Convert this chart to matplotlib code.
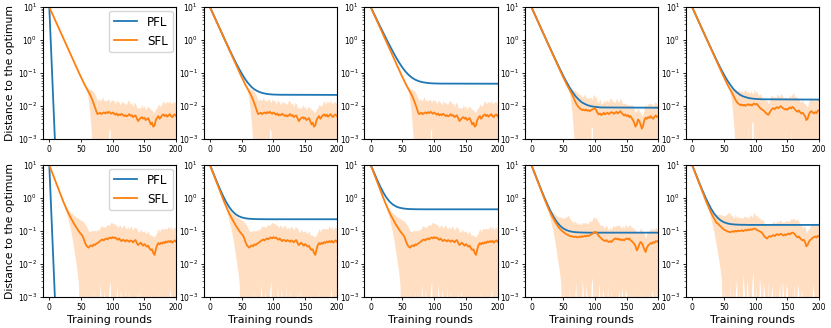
import numpy as np
import matplotlib
matplotlib.use("Agg")
import matplotlib.pyplot as plt

# ---------------- data (log10 of distance to optimum) ----------------
SFL_X = np.arange(0, 201, 2)

# top row: common descent x = 0..64
SFL_TOP_DESCENT = [1.0, 0.915, 0.83, 0.745, 0.66, 0.575, 0.49, 0.405, 0.32, 0.235,
                   0.15, 0.065, -0.02, -0.105, -0.19, -0.275, -0.36, -0.445, -0.53, -0.615,
                   -0.70, -0.785, -0.87, -0.955, -1.04, -1.12, -1.20, -1.28, -1.36, -1.43,
                   -1.50, -1.57, -1.64]
# top row floors x = 66..200
SFL_TOP_A_FLOOR = [-1.72, -1.82, -1.92, -2.03, -2.15, -2.24, -2.22, -2.20, -2.24, -2.21,
                   -2.19, -2.22, -2.18, -2.21, -2.17, -2.20, -2.23, -2.19, -2.22, -2.26,
                   -2.22, -2.28, -2.25, -2.27, -2.23, -2.26, -2.30, -2.27, -2.31, -2.28,
                   -2.24, -2.29, -2.27, -2.33, -2.30, -2.28, -2.37, -2.45, -2.40, -2.36,
                   -2.33, -2.38, -2.35, -2.42, -2.39, -2.36, -2.45, -2.55, -2.50, -2.62,
                   -2.58, -2.42, -2.35, -2.30, -2.38, -2.33, -2.27, -2.25, -2.30, -2.26,
                   -2.32, -2.28, -2.24, -2.30, -2.33, -2.27, -2.25, -2.30]
SFL_TOP_B_FLOOR = [-1.72, -1.82, -1.90, -1.97, -2.02, -2.06, -2.09, -2.12, -2.10, -2.13,
                   -2.10, -2.14, -2.12, -2.15, -2.12, -2.10, -2.08, -2.06, -2.12, -2.20,
                   -2.25, -2.22, -2.27, -2.24, -2.20, -2.25, -2.22, -2.20, -2.24, -2.21,
                   -2.18, -2.20, -2.23, -2.20, -2.17, -2.22, -2.19, -2.15, -2.20, -2.24,
                   -2.28, -2.25, -2.30, -2.27, -2.33, -2.30, -2.36, -2.42, -2.50, -2.62,
                   -2.55, -2.40, -2.45, -2.55, -2.68, -2.60, -2.42, -2.35, -2.38, -2.33,
                   -2.36, -2.30, -2.35, -2.38, -2.32, -2.28, -2.33, -2.30]
SFL_TOP_C_FLOOR = [-1.72, -1.80, -1.86, -1.91, -1.94, -1.97, -1.95, -1.98, -1.96, -1.99,
                   -1.96, -1.94, -1.97, -1.95, -1.98, -1.94, -1.92, -1.95, -1.93, -1.98,
                   -2.03, -2.07, -2.10, -2.12, -2.16, -2.20, -2.24, -2.26, -2.20, -2.13,
                   -2.08, -2.06, -2.09, -2.05, -2.03, -2.06, -2.02, -2.00, -2.04, -2.07,
                   -2.10, -2.08, -2.11, -2.06, -2.04, -2.07, -2.02, -2.05, -2.10, -2.14,
                   -2.17, -2.13, -2.18, -2.22, -2.20, -2.25, -2.30, -2.42, -2.38, -2.25,
                   -2.18, -2.15, -2.19, -2.22, -2.18, -2.21, -2.14, -2.12]

# bottom row: common descent x = 0..38
SFL_BOT_DESCENT = [1.0, 0.9, 0.8, 0.7, 0.6, 0.5, 0.4, 0.3, 0.2, 0.1,
                   0.0, -0.1, -0.19, -0.28, -0.37, -0.45, -0.53, -0.60, -0.67, -0.74]
# bottom row floors x = 40..200
SFL_BOT_A_FLOOR = [-0.81, -0.87, -0.93, -0.99, -1.04, -1.09, -1.13, -1.22, -1.33, -1.42,
                   -1.47, -1.50, -1.45, -1.43, -1.46, -1.40, -1.42, -1.38, -1.36, -1.33,
                   -1.30, -1.27, -1.25, -1.28, -1.24, -1.22, -1.25, -1.21, -1.19, -1.22,
                   -1.18, -1.21, -1.19, -1.23, -1.26, -1.22, -1.27, -1.30, -1.26, -1.28,
                   -1.31, -1.27, -1.29, -1.32, -1.28, -1.30, -1.34, -1.29, -1.27, -1.36,
                   -1.42, -1.38, -1.35, -1.40, -1.44, -1.39, -1.43, -1.47, -1.44, -1.52,
                   -1.57, -1.55, -1.66, -1.72, -1.55, -1.42, -1.36, -1.40, -1.35, -1.38,
                   -1.33, -1.36, -1.31, -1.34, -1.30, -1.33, -1.29, -1.35, -1.31, -1.28,
                   -1.32]
SFL_BOT_B_FLOOR = [-0.80, -0.86, -0.91, -0.95, -0.99, -1.02, -1.05, -1.08, -1.10, -1.12,
                   -1.14, -1.16, -1.15, -1.17, -1.18, -1.16, -1.19, -1.18, -1.16, -1.18,
                   -1.15, -1.17, -1.14, -1.16, -1.13, -1.15, -1.12, -1.10, -1.08, -1.05,
                   -1.02, -1.03, -1.08, -1.14, -1.18, -1.22, -1.25, -1.28, -1.30, -1.27,
                   -1.31, -1.33, -1.30, -1.33, -1.28, -1.25, -1.22, -1.24, -1.22, -1.26,
                   -1.24, -1.28, -1.25, -1.28, -1.24, -1.22, -1.25, -1.22, -1.27, -1.30,
                   -1.34, -1.38, -1.45, -1.58, -1.52, -1.40, -1.33, -1.36, -1.45, -1.55,
                   -1.63, -1.50, -1.43, -1.40, -1.36, -1.38, -1.33, -1.35, -1.30, -1.32,
                   -1.28]
SFL_BOT_C_FLOOR = [-0.76, -0.80, -0.84, -0.88, -0.92, -0.95, -0.97, -0.99, -1.01, -1.02,
                   -1.03, -1.02, -1.00, -1.02, -0.99, -1.01, -0.98, -1.00, -0.99, -0.97,
                   -1.00, -0.98, -0.96, -0.98, -0.95, -0.97, -0.94, -0.96, -0.93, -0.92,
                   -0.94, -0.96, -0.98, -1.00, -1.02, -1.05, -1.10, -1.16, -1.20, -1.22,
                   -1.18, -1.15, -1.17, -1.14, -1.12, -1.15, -1.11, -1.09, -1.12, -1.10,
                   -1.08, -1.11, -1.13, -1.10, -1.12, -1.09, -1.07, -1.10, -1.06, -1.04,
                   -1.06, -1.10, -1.15, -1.19, -1.16, -1.21, -1.25, -1.28, -1.26, -1.33,
                   -1.46, -1.42, -1.32, -1.27, -1.24, -1.20, -1.18, -1.16, -1.19, -1.14,
                   -1.16]

# band half-widths (in decades) above / below the SFL mean, x = 0..200 step 2
TOP_UP = [0.02] * 29 + [
    0.04, 0.06, 0.10, 0.15, 0.22, 0.30, 0.35, 0.38, 0.42, 0.40,
    0.45, 0.38, 0.42, 0.50, 0.36, 0.40, 0.33, 0.42, 0.38, 0.30,
    0.45, 0.35, 0.40, 0.32, 0.38, 0.44, 0.36, 0.30, 0.40, 0.35,
    0.42, 0.33, 0.38, 0.46, 0.40, 0.34, 0.38, 0.30, 0.42, 0.36,
    0.32, 0.40, 0.35, 0.30, 0.38, 0.33, 0.36, 0.30, 0.38, 0.34,
    0.40, 0.45, 0.38, 0.44, 0.40, 0.35, 0.30, 0.36, 0.40, 0.33,
    0.38, 0.42, 0.36, 0.40, 0.45, 0.38, 0.42, 0.36, 0.44, 0.40,
    0.38, 0.35]
TOP_LO = [0.02] * 29 + [
    0.05, 0.12, 0.30, 0.60, 1.0, 1.5, 2.0, 3, 3, 2.0,
    3, 3, 3, 3, 3, 0.6, 3, 3, 0.5, 0.55,
    3, 3, 3, 3, 3, 3, 0.7, 3, 3, 3,
    3, 0.6, 3, 3, 3, 3, 3, 0.8, 3, 3,
    3, 3, 3, 3, 0.5, 3, 3, 3, 3, 0.6,
    3, 3, 3, 3, 3, 3, 3, 0.55, 3, 3,
    3, 3, 3, 0.7, 3, 3, 3, 3, 3, 0.6,
    3, 3]
BOT_UP = [0.02] * 12 + [
    0.04, 0.06, 0.08, 0.10, 0.13, 0.16, 0.20, 0.24, 0.28, 0.30,
    0.34, 0.38, 0.40, 0.42, 0.45, 0.50, 0.55, 0.60, 0.55, 0.50,
    0.45, 0.42, 0.50, 0.40, 0.45, 0.38, 0.42, 0.36, 0.40, 0.44,
    0.38, 0.42, 0.35, 0.40, 0.45, 0.38, 0.42, 0.50, 0.40, 0.45,
    0.38, 0.42, 0.36, 0.40, 0.44, 0.38, 0.42, 0.46, 0.40, 0.35,
    0.42, 0.38, 0.44, 0.40, 0.36, 0.42, 0.38, 0.45, 0.40, 0.36,
    0.42, 0.38, 0.44, 0.40, 0.36, 0.42, 0.45, 0.40, 0.46, 0.42,
    0.50, 0.55, 0.45, 0.40, 0.44, 0.38, 0.42, 0.46, 0.40, 0.44,
    0.38, 0.42, 0.46, 0.40, 0.44, 0.38, 0.42, 0.40, 0.38]
BOT_LO = [0.02] * 12 + [
    0.05, 0.10, 0.15, 0.22, 0.30, 0.40, 0.55, 0.70, 0.90, 1.1,
    1.3, 1.6, 3, 1.8, 3, 1.9, 3, 3, 1.5, 3,
    1.7, 3, 1.9, 1.4, 3, 1.7, 3, 3, 1.3, 1.8,
    3, 1.5, 1.9, 3, 3, 1.6, 1.3, 3, 1.7, 3,
    3, 1.4, 1.8, 3, 1.5, 1.7, 3, 3, 1.3, 3,
    1.8, 1.5, 3, 1.7, 3, 3, 1.9, 1.5, 3, 1.4,
    1.8, 3, 1.5, 1.7, 3, 3, 1.9, 3, 1.5, 3,
    3, 1.4, 1.7, 3, 1.5, 1.8, 3, 1.6, 3, 3,
    1.7, 1.9, 3, 1.4, 1.7, 3, 3, 1.8, 3]

# PFL curves
PFL_FAST_X = [0, 10, 20]
PFL_FAST = [1.0, -3.55, -8.1]
PFL_X = [0, 5, 10, 15, 20, 25, 30, 35, 40, 45, 50, 55, 60, 65, 70, 75, 80, 85, 90, 95, 100, 110, 200]
PFL_TOP_2 = [1.0, 0.789, 0.578, 0.367, 0.157, -0.052, -0.257, -0.459, -0.655, -0.840, -1.01, -1.17,
             -1.30, -1.41, -1.49, -1.545, -1.585, -1.61, -1.63, -1.64, -1.647, -1.653, -1.658]
PFL_TOP_3 = [1.0, 0.803, 0.605, 0.408, 0.213, 0.020, -0.168, -0.35, -0.524, -0.686, -0.83, -0.955,
             -1.056, -1.136, -1.195, -1.237, -1.265, -1.283, -1.297, -1.305, -1.31, -1.315, -1.319]
PFL_TOP_4 = [1.0, 0.79, 0.575, 0.363, 0.15, -0.058, -0.268, -0.474, -0.681, -0.881, -1.076, -1.26,
             -1.43, -1.58, -1.71, -1.81, -1.89, -1.94, -1.98, -2.004, -2.02, -2.038, -2.046]
PFL_TOP_5 = [1.0, 0.789, 0.576, 0.365, 0.154, -0.054, -0.262, -0.466, -0.667, -0.861, -1.04, -1.21,
             -1.35, -1.48, -1.575, -1.65, -1.70, -1.73, -1.757, -1.77, -1.78, -1.79, -1.80]
PFL_BOT_2 = [1.0, 0.767, 0.530, 0.303, 0.090, -0.101, -0.263, -0.389, -0.481, -0.543, -0.582, -0.606,
             -0.620, -0.628, -0.632, -0.635, -0.636, -0.637, -0.638, -0.638, -0.638, -0.638, -0.638]
PFL_BOT_3 = [1.0, 0.784, 0.559, 0.350, 0.164, 0.009, -0.110, -0.195, -0.252, -0.287, -0.308, -0.321,
             -0.328, -0.332, -0.334, -0.336, -0.336, -0.337, -0.337, -0.337, -0.337, -0.337, -0.337]
PFL_BOT_4 = [1.0, 0.757, 0.512, 0.271, 0.037, -0.186, -0.391, -0.572, -0.721, -0.835, -0.915, -0.967,
             -1.0, -1.02, -1.031, -1.037, -1.041, -1.043, -1.045, -1.045, -1.045, -1.045, -1.045]
PFL_BOT_5 = [1.0, 0.762, 0.521, 0.286, 0.063, -0.144, -0.327, -0.478, -0.593, -0.675, -0.729, -0.762,
             -0.783, -0.794, -0.801, -0.805, -0.807, -0.808, -0.81, -0.81, -0.81, -0.81, -0.81]

SERIES_LABELS = ["PFL", "SFL"]
X_TICKS = [0, 50, 100, 150, 200]
X_LABEL = "Training rounds"
Y_LABEL = "Distance to the optimum"

# ---------------- assemble panels ----------------
top_A = SFL_TOP_DESCENT + SFL_TOP_A_FLOOR
top_B = SFL_TOP_DESCENT + SFL_TOP_B_FLOOR
top_C = SFL_TOP_DESCENT + SFL_TOP_C_FLOOR
bot_A = SFL_BOT_DESCENT + SFL_BOT_A_FLOOR
bot_B = SFL_BOT_DESCENT + SFL_BOT_B_FLOOR
bot_C = SFL_BOT_DESCENT + SFL_BOT_C_FLOOR

panels = [
    [((PFL_FAST_X, PFL_FAST), top_A), ((PFL_X, PFL_TOP_2), top_A), ((PFL_X, PFL_TOP_3), top_A),
     ((PFL_X, PFL_TOP_4), top_B), ((PFL_X, PFL_TOP_5), top_C)],
    [((PFL_FAST_X, PFL_FAST), bot_A), ((PFL_X, PFL_BOT_2), bot_A), ((PFL_X, PFL_BOT_3), bot_A),
     ((PFL_X, PFL_BOT_4), bot_B), ((PFL_X, PFL_BOT_5), bot_C)],
]
bands = [(TOP_UP, TOP_LO), (BOT_UP, BOT_LO)]

BLUE = "#1f77b4"
ORANGE = "#ff7f0e"

plt.rcParams["font.family"] = ["DejaVu Sans"]
fig, axes = plt.subplots(2, 5, figsize=(8.31, 3.28), dpi=100)
fig.subplots_adjust(left=0.0517, right=0.9856, top=0.978, bottom=0.094,
                    wspace=0.207, hspace=0.197)

for r in range(2):
    up, lo = bands[r]
    for c in range(5):
        ax = axes[r, c]
        (px, py), sfl = panels[r][c]
        sfl = np.asarray(sfl)
        ax.fill_between(SFL_X, 10.0 ** (sfl - np.asarray(lo)), 10.0 ** (sfl + np.asarray(up)),
                        color=ORANGE, alpha=0.25, linewidth=0)
        ax.plot(px, 10.0 ** np.asarray(py), color=BLUE, lw=1.3, label=SERIES_LABELS[0])
        ax.plot(SFL_X, 10.0 ** sfl, color=ORANGE, lw=1.3, label=SERIES_LABELS[1])
        ax.set_yscale("log")
        ax.set_ylim(1e-3, 1e1)
        ax.set_xlim(-10, 200)
        ax.set_xticks(X_TICKS)
        ax.tick_params(axis="both", which="major", labelsize=5.5, length=2.5, width=0.6, pad=1.5)
        ax.tick_params(axis="y", which="minor", length=1.4, width=0.4)
        for s in ax.spines.values():
            s.set_linewidth(0.8)
        if c == 0:
            ax.set_ylabel(Y_LABEL, fontsize=7.8, labelpad=2.0)
            ax.legend(loc="upper right", fontsize=8.6, borderaxespad=0.3)
        if r == 1:
            ax.set_xlabel(X_LABEL, fontsize=7.9, labelpad=2.0)

fig.savefig("out.png", dpi=100)
